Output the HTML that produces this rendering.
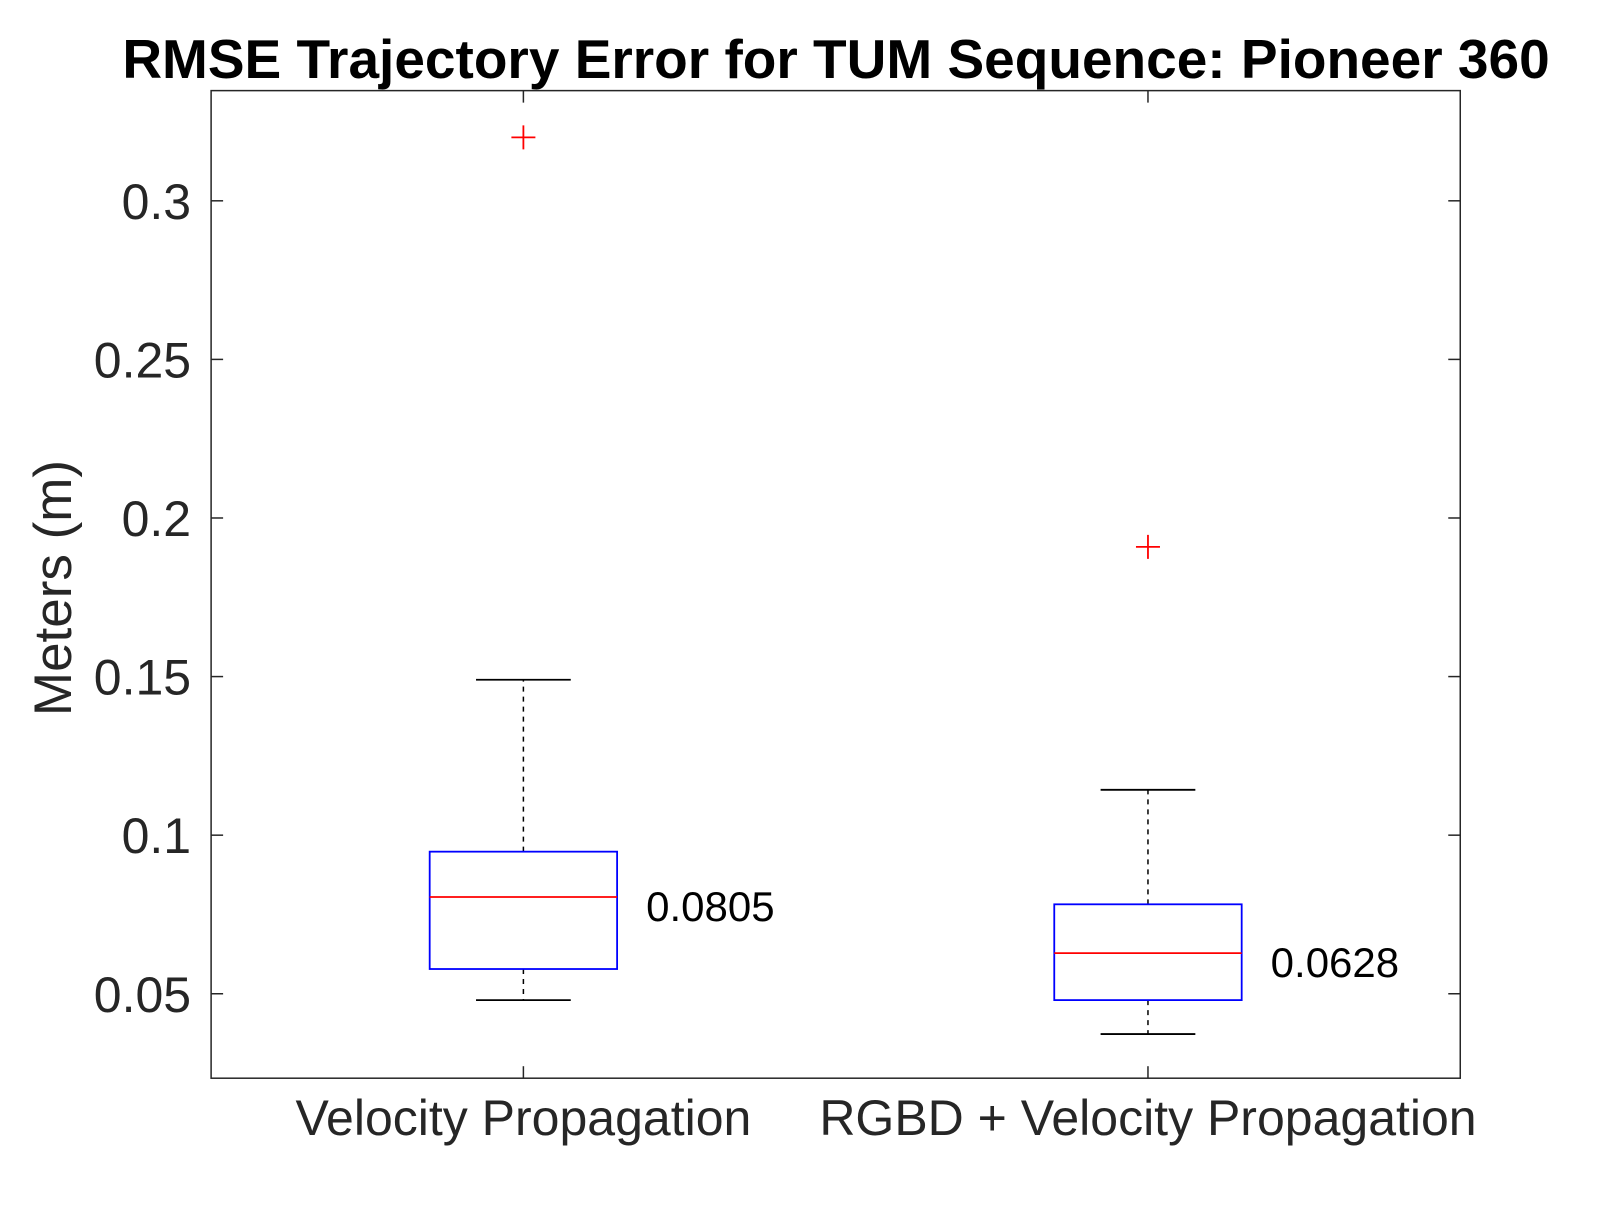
<!DOCTYPE html>
<html><head><meta charset="utf-8"><style>
html,body{margin:0;padding:0;background:#fff;width:1614px;height:1212px;overflow:hidden}
svg text{font-family:"Liberation Sans",Arial,sans-serif}
</style></head><body>
<svg id="chart" width="1614" height="1212" xmlns="http://www.w3.org/2000/svg">
<text x="836" y="78" text-anchor="middle" font-size="55" font-weight="bold" fill="#000">RMSE Trajectory Error for TUM Sequence: Pioneer 360</text>
<text transform="translate(71,588) rotate(-90)" text-anchor="middle" font-size="53" fill="#262626">Meters (m)</text>
<g id="axes"></g>
<g id="marks"></g>
</svg>
<script>
const categories=["Velocity Propagation","RGBD + Velocity Propagation"];
const whiskerLow=[0.048,0.0373];
const q1=[0.0578,0.048];
const median=[0.0805,0.0628];
const q3=[0.0948,0.0782];
const whiskerHigh=[0.149,0.1143];
const outliers=[[0.320],[0.1909]];
const medianLabels=["0.0805","0.0628"];
const yTicks=[0.05,0.1,0.15,0.2,0.25,0.3];
const yTickLabels=["0.05","0.1","0.15","0.2","0.25","0.3"];

const S=1.0298;
const L=205*S,R=1418*S,T=88*S,B=1047*S;
const yMin=0.05-82/3080, yMax=0.05+877/3080;
function y(v){return B-(v-yMin)/(yMax-yMin)*(B-T);}
function x(i){return L+(i+0.5)/categories.length*(R-L);}
const NS="http://www.w3.org/2000/svg";
function mk(par,tag,attrs){const e=document.createElementNS(NS,tag);for(const k in attrs)e.setAttribute(k,attrs[k]);par.appendChild(e);return e;}
const ax=document.getElementById('axes'), mg=document.getElementById('marks');
const frame=mk(ax,'rect',{x:L,y:T,width:R-L,height:B-T,fill:'none',stroke:'#262626','stroke-width':1.5});


yTicks.forEach((v,i)=>{
  const yy=y(v);
  const t1=mk(ax,'line',{x1:L,x2:L+12,y1:yy,y2:yy,stroke:'#262626','stroke-width':1.5});
  
  
  const t2=mk(ax,'line',{x1:R-12,x2:R,y1:yy,y2:yy,stroke:'#262626','stroke-width':1.5});
  
  
  const lb=mk(ax,'text',{x:L-20,y:yy+18,'text-anchor':'end','font-size':50,fill:'#262626'});
  lb.textContent=yTickLabels[i];
  
  
});
categories.forEach((c,i)=>{
  const cx=x(i);
  const tk=mk(ax,'line',{x1:cx,x2:cx,y1:B,y2:B-12,stroke:'#262626','stroke-width':1.5});
  
  
  const tk2=mk(ax,'line',{x1:cx,x2:cx,y1:T,y2:T+12,stroke:'#262626','stroke-width':1.5});
  
  
  const lb=mk(ax,'text',{x:cx,y:1135,'text-anchor':'middle','font-size':50,fill:'#262626'});
  lb.textContent=c;
  
  
  const hw=91*S, cw=46*S;
  const w1=mk(mg,'line',{x1:cx,x2:cx,y1:y(q3[i]),y2:y(whiskerHigh[i]),stroke:'#000','stroke-width':1.5,'stroke-dasharray':'5,5'});
  
  
  const w2=mk(mg,'line',{x1:cx,x2:cx,y1:y(q1[i]),y2:y(whiskerLow[i]),stroke:'#000','stroke-width':1.5,'stroke-dasharray':'5,5'});
  
  
  const c1=mk(mg,'line',{x1:cx-cw,x2:cx+cw,y1:y(whiskerHigh[i]),y2:y(whiskerHigh[i]),stroke:'#000','stroke-width':1.8});
  
  
  const c2=mk(mg,'line',{x1:cx-cw,x2:cx+cw,y1:y(whiskerLow[i]),y2:y(whiskerLow[i]),stroke:'#000','stroke-width':1.8});
  
  
  const bx=mk(mg,'rect',{x:cx-hw,y:y(q3[i]),width:2*hw,height:y(q1[i])-y(q3[i]),fill:'none',stroke:'#0000ff','stroke-width':1.8});
  
  
  const md=mk(mg,'line',{x1:cx-hw,x2:cx+hw,y1:y(median[i]),y2:y(median[i]),stroke:'#ff0000','stroke-width':1.8});
  
  
  outliers[i].forEach(o=>{
    const oy=y(o);
    const p=mk(mg,'path',{d:`M${cx-12},${oy}H${cx+12}M${cx},${oy-12}V${oy+12}`,stroke:'#ff0000','stroke-width':1.8,fill:'none'});
    
    
  });
  const ml=mk(mg,'text',{x:cx+hw+29,y:y(median[i])+24,'font-size':42,fill:'#000'});
  ml.textContent=medianLabels[i];
  
  
});
</script>
</body></html>
